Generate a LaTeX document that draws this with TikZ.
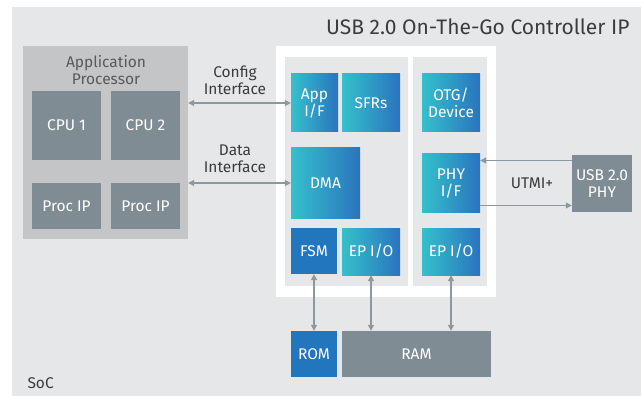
\documentclass[tikz,border=0pt]{standalone}
\usepackage{fontspec}
\setmainfont{Fira Sans}
\usepackage{tikz}
\usetikzlibrary{arrows.meta, positioning}

\definecolor{socgray}{HTML}{E6E7E9}
\definecolor{procgray}{HTML}{C4C5C7}
\definecolor{slate}{HTML}{7F8C93}
\definecolor{wire}{HTML}{8C989E}
\definecolor{teal1}{HTML}{35C0CC}
\definecolor{blue1}{HTML}{2A74BD}
\definecolor{solidblue}{HTML}{2276BE}
\definecolor{txtgray}{HTML}{3C3C3E}

\begin{document}
\begin{tikzpicture}[
  x=1pt, y=-1pt,
  font=\fontsize{15.5}{17}\selectfont,
  block/.style={
    rectangle, draw=none, align=center,
    inner sep=0pt, text=white,
  },
  cpu/.style={block, fill=slate},
  ipgrad/.style={block, left color=teal1, right color=blue1},
  ipsolid/.style={block, fill=solidblue},
  panel/.style={rectangle, inner sep=0pt},
  lbl/.style={align=center, text=txtgray},
  link/.style={draw=wire, line width=1.2pt,
    {Triangle[length=6pt,width=6pt]}-{Triangle[length=6pt,width=6pt]}},
  oneway/.style={draw=wire, line width=1.2pt, -{Triangle[length=6pt,width=6pt]}},
]

\useasboundingbox (0,0) rectangle (641,396);

% --- SoC background ---
\node[panel, fill=socgray, minimum width=629pt, minimum height=389pt] (SOC) at (326.5,201.5) {};
\node[lbl, anchor=west] (SOCLBL) at (24,383) {SoC};

% --- Application processor ---
\node[panel, fill=procgray, minimum width=165pt, minimum height=193pt] (AP) at (105.5,142.5) {};
\node[lbl, text=txtgray!85] (APLBL) at (106,70) {Application\\Processor};
\node[cpu, minimum width=69pt, minimum height=69pt] (CPU1) at (66.5,125.5) {CPU 1};
\node[cpu, minimum width=69pt, minimum height=69pt] (CPU2) at (145.5,125.5) {CPU 2};
\node[cpu, minimum width=69pt, minimum height=46pt] (PIP1) at (66.5,206) {Proc IP};
\node[cpu, minimum width=69pt, minimum height=46pt] (PIP2) at (145.5,206) {Proc IP};

% --- Controller IP ---
\node[lbl, anchor=east, font=\fontsize{21}{24}\selectfont] (TITLE) at (633,27) {USB 2.0 On-The-Go Controller IP};
\node[panel, fill=white, minimum width=220pt, minimum height=251pt] (CTRL) at (386,171.5) {};
\node[panel, fill=socgray, minimum width=123pt, minimum height=229pt] (LP) at (346.5,171.5) {};
\node[panel, fill=socgray, minimum width=74pt, minimum height=229pt] (RP) at (450,171.5) {};

\node[ipgrad, minimum width=47pt, minimum height=58pt] (APPIF) at (314.5,103) {App\\I/F};
\node[ipgrad, minimum width=58pt, minimum height=58pt] (SFR) at (371,103) {SFRs};
\node[ipgrad, minimum width=69pt, minimum height=70pt] (DMA) at (325.5,183) {DMA};
\node[ipsolid, minimum width=46pt, minimum height=46pt] (FSM) at (314,251) {FSM};
\node[ipgrad, minimum width=58pt, minimum height=47pt] (EPL) at (371,251.5) {EP I/O};

\node[ipgrad, minimum width=58pt, minimum height=58pt] (OTG) at (451,103) {OTG/\\Device};
\node[ipgrad, minimum width=58pt, minimum height=58pt] (PHYIF) at (451,183) {PHY\\I/F};
\node[ipgrad, minimum width=58pt, minimum height=47pt] (EPR) at (451,251.5) {EP I/O};

% --- External PHY and memories ---
\node[cpu, minimum width=60pt, minimum height=57pt] (PHY) at (602,183.5) {USB 2.0\\PHY};
\node[ipsolid, minimum width=46pt, minimum height=46pt] (ROM) at (314,354) {ROM};
\node[cpu, minimum width=149pt, minimum height=46pt] (RAM) at (416.5,354) {RAM};

% --- Arrows ---
\draw[link] (APPIF.west -| AP.east) -- (APPIF.west);
\draw[link] (DMA.west -| AP.east) -- (DMA.west);
\node[lbl] (CFGLBL) at (235,80) {Config\\Interface};
\node[lbl] (DATLBL) at (235,159) {Data\\Interface};

\draw[oneway] ([yshift=23pt]PHY.west) -- ([yshift=23pt]PHY.west -| PHYIF.east);
\draw[oneway] ([yshift=-22.5pt]PHYIF.east) -- ([yshift=-22.5pt]PHYIF.east -| PHY.west);
\node[lbl] (UTMI) at (532,183) {UTMI+};

\draw[link] (FSM.south) -- (ROM.north);
\draw[link] (EPL.south) -- (EPL.south |- RAM.north);
\draw[link] (EPR.south) -- (EPR.south |- RAM.north);

\end{tikzpicture}
\end{document}
